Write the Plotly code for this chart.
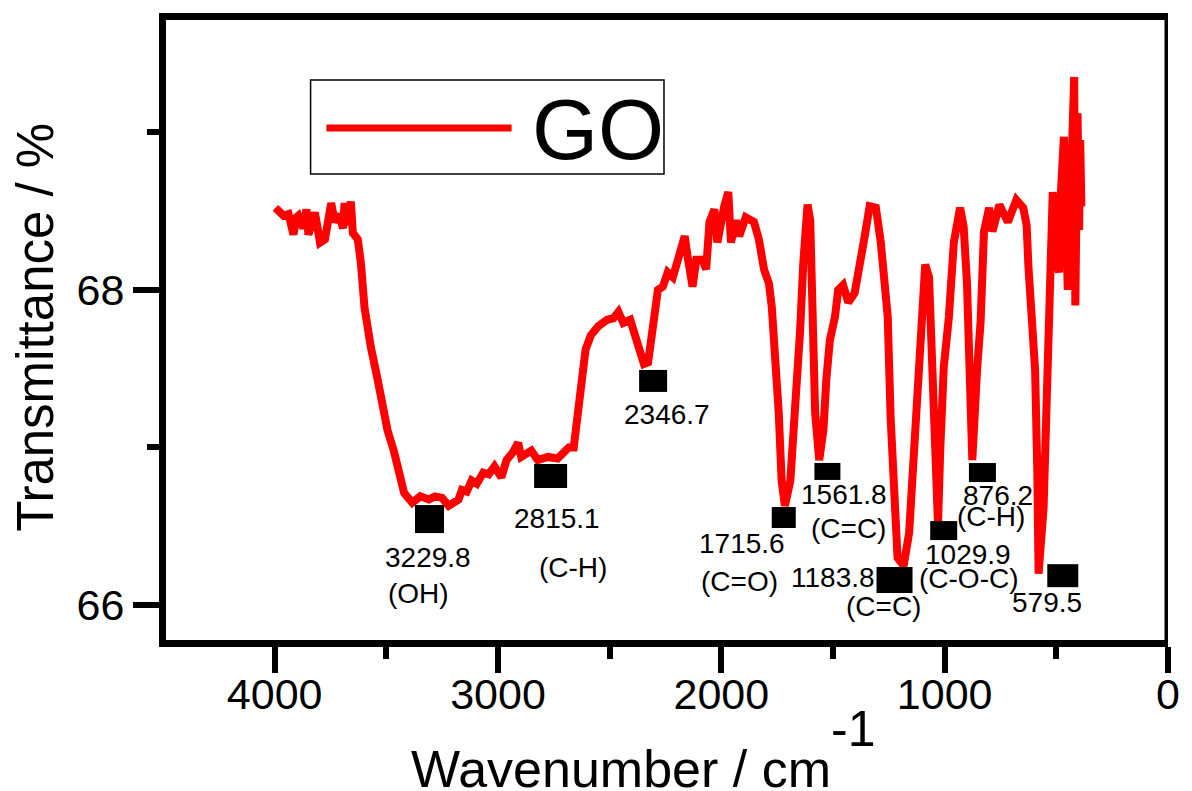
import plotly.graph_objects as go

# FTIR spectrum of graphene oxide (GO)
WAVENUMBER = [
    3997, 3960, 3938, 3916, 3902, 3894, 3871, 3858, 3849, 3820,
    3797, 3775, 3747, 3731, 3712, 3694, 3687, 3672, 3659, 3650,
    3628, 3614, 3598, 3583, 3570, 3539, 3517, 3495, 3465, 3443,
    3420, 3384, 3348, 3310, 3282, 3251, 3221, 3177, 3162, 3140,
    3118, 3095, 3066, 3042, 3016, 2985, 2962, 2933, 2910, 2896,
    2851, 2822, 2777, 2733, 2683, 2661, 2644, 2630, 2608, 2585,
    2550, 2511, 2483, 2461, 2439, 2408, 2386, 2356, 2346.7, 2328,
    2312, 2297, 2284, 2262, 2240, 2217, 2186, 2164, 2151, 2129,
    2112, 2084, 2068, 2053, 2031, 2018, 1987, 1969, 1957, 1935,
    1920, 1891, 1854, 1832, 1809, 1787, 1774, 1757, 1743, 1730,
    1715.6, 1691, 1669, 1647, 1633, 1614, 1602, 1597, 1588, 1580,
    1561.8, 1543, 1530, 1514, 1491, 1477, 1455, 1432, 1403, 1381,
    1358, 1336, 1308, 1286, 1270, 1255, 1242, 1225, 1211, 1183.8,
    1159, 1137, 1114, 1100, 1087, 1070, 1055, 1042, 1029.9, 1020,
    1004, 981, 959, 931, 915, 900, 887, 876.2, 855, 839,
    824, 801, 786, 755, 717, 679, 648, 633, 625, 610,
    595, 585, 579.5, 557, 542, 526, 516, 501, 488, 479,
    466, 449, 435, 420, 415, 405, 398, 393, 388,
]
TRANSMITTANCE = [
    68.52, 68.47, 68.48, 68.35, 68.46, 68.47, 68.39, 68.51, 68.35, 68.49,
    68.30, 68.32, 68.55, 68.43, 68.48, 68.39, 68.55, 68.41, 68.56, 68.36,
    68.32, 68.17, 67.89, 67.75, 67.64, 67.43, 67.26, 67.11, 66.97, 66.84,
    66.71, 66.65, 66.69, 66.67, 66.69, 66.68, 66.63, 66.67, 66.73, 66.72,
    66.79, 66.77, 66.84, 66.83, 66.88, 66.81, 66.92, 66.97, 67.03, 66.94,
    66.98, 66.92, 66.94, 66.93, 67.00, 67.00, 67.22, 67.43, 67.62, 67.71,
    67.77, 67.81, 67.82, 67.86, 67.79, 67.81, 67.70, 67.56, 67.53, 67.54,
    67.68, 67.85, 68.00, 68.02, 68.11, 68.08, 68.21, 68.34, 68.21, 68.02,
    68.19, 68.19, 68.13, 68.43, 68.51, 68.30, 68.53, 68.62, 68.30, 68.44,
    68.34, 68.46, 68.43, 68.32, 68.13, 68.04, 67.89, 67.60, 67.22, 66.79,
    66.63, 66.79, 67.22, 67.75, 68.17, 68.54, 68.44, 68.06, 67.64, 67.22,
    66.92, 67.11, 67.43, 67.68, 67.83, 68.00, 68.03, 67.92, 67.98, 68.19,
    68.34, 68.53, 68.52, 68.30, 68.11, 67.83, 67.19, 66.67, 66.30, 66.25,
    66.46, 66.98, 67.62, 68.00, 68.16, 68.08, 67.41, 66.77, 66.51, 66.98,
    67.51, 67.83, 68.30, 68.52, 68.40, 68.04, 67.56, 66.92, 67.49, 67.80,
    68.37, 68.52, 68.37, 68.54, 68.43, 68.57, 68.52, 68.41, 68.15, 67.75,
    67.49, 66.84, 66.20, 66.62, 67.49, 68.11, 68.62, 68.21, 68.11, 68.63,
    68.97, 68.00, 68.53, 69.35, 67.90, 69.12, 68.38, 68.95, 68.53,
]

# Labelled absorption bands
PEAK_WAVENUMBER = [3229.8, 2815.1, 2346.7, 1715.6, 1561.8, 1183.8, 1029.9, 876.2, 579.5]
PEAK_MARK_LEVEL = [66.546, 66.819, 67.422, 66.556, 66.848, 66.159, 66.473, 66.841, 66.187]
PEAK_ASSIGNMENT = ["(OH)", "(C-H)", "", "(C=O)", "(C=C)", "(C=C)", "(C-O-C)", "(C-H)", ""]

X_TICK0, X_DTICK = 0, 1000
Y_TICK0, Y_DTICK = 66, 2
X_RANGE = [4486.7, 0]
Y_RANGE = [65.779, 69.711]
SERIES_NAME = "GO"

# ---- styling -------------------------------------------------------------
FONT = "Liberation Sans, Arial, sans-serif"
RED = "#ff0000"
FRAME_W = 7

# marker box around each band: (left px, right px, height px) relative to band position
MARK_BOX = [(-31.7, -2.7, 28), (-5.2, 27.8, 24), (-4.8, 23.2, 22), (-13.1, 10.9, 21),
            (-4.8, 21.2, 17), (-27.1, 8.9, 26), (-7.8, 19.2, 19), (-3.4, 23.6, 19),
            (8.7, 39.7, 23)]
# pixel offsets of the value text and the assignment text
VALUE_SHIFT = [(-18.7, -38), (17.3, -42), (22.7, -34), (-42.6, -26.5), (25.2, -23.5),
               (-71.1, 3), (29.7, -23.5), (25.6, -22.5), (8.7, -26.5)]
ASSIGN_SHIFT = [(-28.7, -74.5), (33.8, -91.5), None, (-45.1, -64), (29.2, -57.5),
                (-20.1, -26.5), (31.2, -48), (18.6, -44), None]

fig = go.Figure()
fig.add_trace(go.Scatter(
    x=WAVENUMBER, y=TRANSMITTANCE, mode="lines", name=SERIES_NAME,
    line=dict(color=RED, width=8), showlegend=False, hoverinfo="skip",
))

shapes = []
annotations = []
for i, (wn, lvl) in enumerate(zip(PEAK_WAVENUMBER, PEAK_MARK_LEVEL)):
    x0, x1, h = MARK_BOX[i]
    shapes.append(dict(
        type="rect", xref="x", yref="y",
        xsizemode="pixel", ysizemode="pixel",
        xanchor=wn, yanchor=lvl,
        x0=x0, x1=x1, y0=-h / 2, y1=h / 2,
        fillcolor="black", line=dict(width=0), layer="above",
    ))
    dx, dy = VALUE_SHIFT[i]
    annotations.append(dict(
        x=wn, y=lvl, xref="x", yref="y", text=f"{wn:.1f}", showarrow=False,
        xshift=dx, yshift=dy, xanchor="center", yanchor="middle",
        font=dict(family=FONT, size=28, color="black"),
    ))
    if PEAK_ASSIGNMENT[i]:
        ax, ay = ASSIGN_SHIFT[i]
        annotations.append(dict(
            x=wn, y=lvl, xref="x", yref="y", text=PEAK_ASSIGNMENT[i], showarrow=False,
            xshift=ax, yshift=ay, xanchor="center", yanchor="middle",
            font=dict(family=FONT, size=28, color="black"),
        ))

# right-hand frame edge sits on the 0 cm-1 position
shapes.append(dict(type="line", xref="x", yref="paper", x0=0, x1=0, y0=-0.0056, y1=1.0056,
                   line=dict(color="black", width=FRAME_W), layer="above"))

# legend box
shapes.append(dict(type="rect", xref="paper", yref="paper",
                   x0=0.1443, x1=0.4970, y0=0.7516, y1=0.9032,
                   line=dict(color="black", width=1.5), fillcolor="white", layer="above"))
shapes.append(dict(type="line", xref="paper", yref="paper",
                   x0=0.1601, x1=0.3449, y0=0.8258, y1=0.8258,
                   line=dict(color=RED, width=7), layer="above"))
annotations.append(dict(x=0.4308, y=0.8234, xref="paper", yref="paper", text=SERIES_NAME,
                        showarrow=False, xanchor="center", yanchor="middle",
                        font=dict(family=FONT, size=85, color="black")))

# axis titles
annotations.append(dict(x=0.4545, y=-0.2081, xref="paper", yref="paper",
                        text="Wavenumber / cm", showarrow=False,
                        xanchor="center", yanchor="middle",
                        font=dict(family=FONT, size=52, color="black")))
annotations.append(dict(x=0.6858, y=-0.1435, xref="paper", yref="paper",
                        text="-1", showarrow=False, xanchor="center", yanchor="middle",
                        font=dict(family=FONT, size=50, color="black")))
annotations.append(dict(x=-0.1304, y=0.504, xref="paper", yref="paper",
                        text="Transmittance / %", showarrow=False, textangle=-90,
                        xanchor="center", yanchor="middle",
                        font=dict(family=FONT, size=51, color="black")))

axis_common = dict(
    showline=True, linecolor="black", linewidth=FRAME_W,
    ticks="outside", ticklen=26, tickwidth=6, tickcolor="black",
    showgrid=False, zeroline=False, tickmode="linear",
    tickfont=dict(family=FONT, size=43, color="black"),
)

fig.update_layout(
    width=1192, height=791,
    margin=dict(l=166, r=14, t=20, b=151),
    paper_bgcolor="white", plot_bgcolor="white",
    xaxis=dict(range=X_RANGE, tick0=X_TICK0, dtick=X_DTICK, mirror=True,
               ticklabelstandoff=-16,
               minor=dict(tick0=0, dtick=500, ticks="outside", ticklen=12,
                          tickwidth=6, tickcolor="black"),
               **axis_common),
    yaxis=dict(range=Y_RANGE, tick0=Y_TICK0, dtick=Y_DTICK, mirror=False,
               minor=dict(tick0=66, dtick=1, ticks="outside", ticklen=12,
                          tickwidth=6, tickcolor="black"),
               **axis_common),
    shapes=shapes, annotations=annotations, showlegend=False,
)

fig.write_html("out.html")
